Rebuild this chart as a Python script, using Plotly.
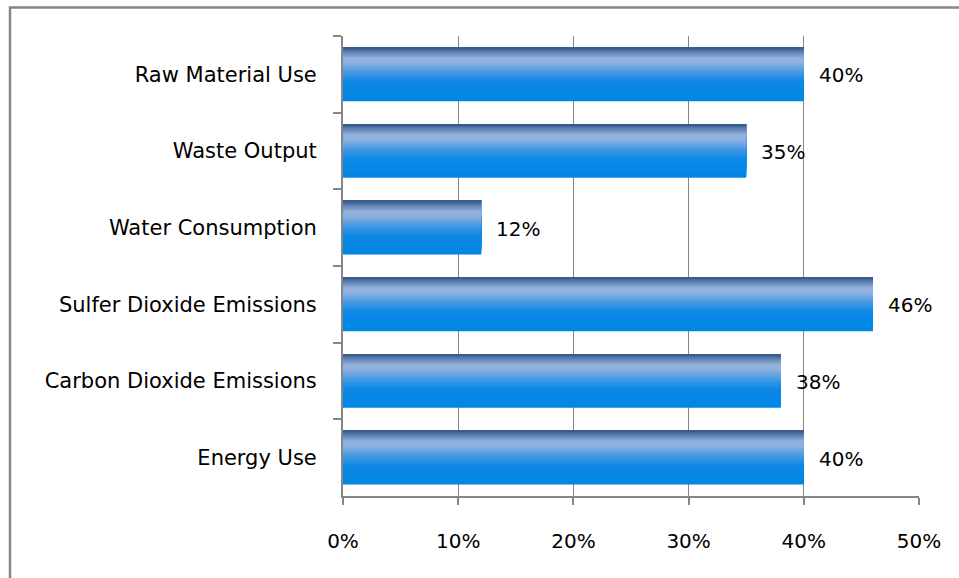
import plotly.graph_objects as go

categories = ["Raw Material Use", "Waste Output", "Water Consumption",
              "Sulfer Dioxide Emissions", "Carbon Dioxide Emissions", "Energy Use"]
values = [0.40, 0.35, 0.12, 0.46, 0.38, 0.40]
labels = ["40%", "35%", "12%", "46%", "38%", "40%"]
x_ticks = [0, 0.1, 0.2, 0.3, 0.4, 0.5]
x_tick_text = ["0%", "10%", "20%", "30%", "40%", "50%"]

# vertical gradient stops (fraction from top of bar -> colour)
stops = [(0.0, (0x33, 0x55, 0x88)), (0.08, (0x5a, 0x7f, 0xb2)), (0.2, (0x94, 0xb2, 0xdc)),
         (0.3, (0x8a, 0xb0, 0xe0)), (0.45, (0x4a, 0x9a, 0xe4)), (0.65, (0x0c, 0x88, 0xe6)),
         (1.0, (0x00, 0x86, 0xe4))]

def grad(t):
    for (t0, c0), (t1, c1) in zip(stops[:-1], stops[1:]):
        if t0 <= t <= t1:
            f = (t - t0) / (t1 - t0) if t1 > t0 else 0
            return "rgb(%d,%d,%d)" % tuple(round(a + (b - a) * f) for a, b in zip(c0, c1))
    return "rgb(%d,%d,%d)" % stops[-1][1]

BAR_W = 0.70
N = 40
fig = go.Figure()
# nested layers anchored at the top of each bar: widest first, so no seams
for k in range(N):
    e = 1 - k / N            # layer covers fraction [0, e] of bar height from top
    t = e - 0.5 / N
    fig.add_trace(go.Bar(
        y=categories, x=values, orientation="h",
        offset=-BAR_W / 2, width=BAR_W * e,
        marker=dict(color=grad(t), line=dict(width=0)),
        showlegend=False, hoverinfo="skip"))

for c, v, lab in zip(categories, values, labels):
    fig.add_annotation(x=v, y=c, text=lab, showarrow=False, xanchor="left",
                       xshift=13, yshift=-1, font=dict(size=20, color="#000000",
                                                       family="DejaVu Sans"))

# outer chart-area border (only top and left visible)
fig.add_shape(type="rect", xref="paper", yref="paper",
              x0=(10 - 343) / 576, x1=1.2, y0=-0.3, y1=1 + (36 - 7.5) / 460,
              line=dict(color="#868686", width=2.5), layer="below")

fig.update_layout(
    width=959, height=578,
    margin=dict(l=343, r=40, t=36, b=82),
    paper_bgcolor="white", plot_bgcolor="white",
    barmode="overlay", bargap=0.3,
    font=dict(family="DejaVu Sans", size=20, color="#000000"),
    xaxis=dict(range=[0, 0.5], tickvals=x_ticks, ticktext=x_tick_text,
               showgrid=True, gridcolor="#868686", gridwidth=1,
               showline=True, linecolor="#868686", linewidth=2,
               ticks="outside", ticklen=7, tickcolor="#868686", tickwidth=2,
               ticklabelstandoff=19, zeroline=False, fixedrange=True,
               tickfont=dict(size=20)),
    yaxis=dict(autorange="reversed", type="category",
               showline=True, linecolor="#868686", linewidth=2,
               ticks="outside", ticklen=8, tickcolor="#868686", tickwidth=2,
               tickson="boundaries", showgrid=False,
               ticklabelstandoff=20, fixedrange=True,
               tickfont=dict(size=21)),
)

fig.write_html("out.html")
